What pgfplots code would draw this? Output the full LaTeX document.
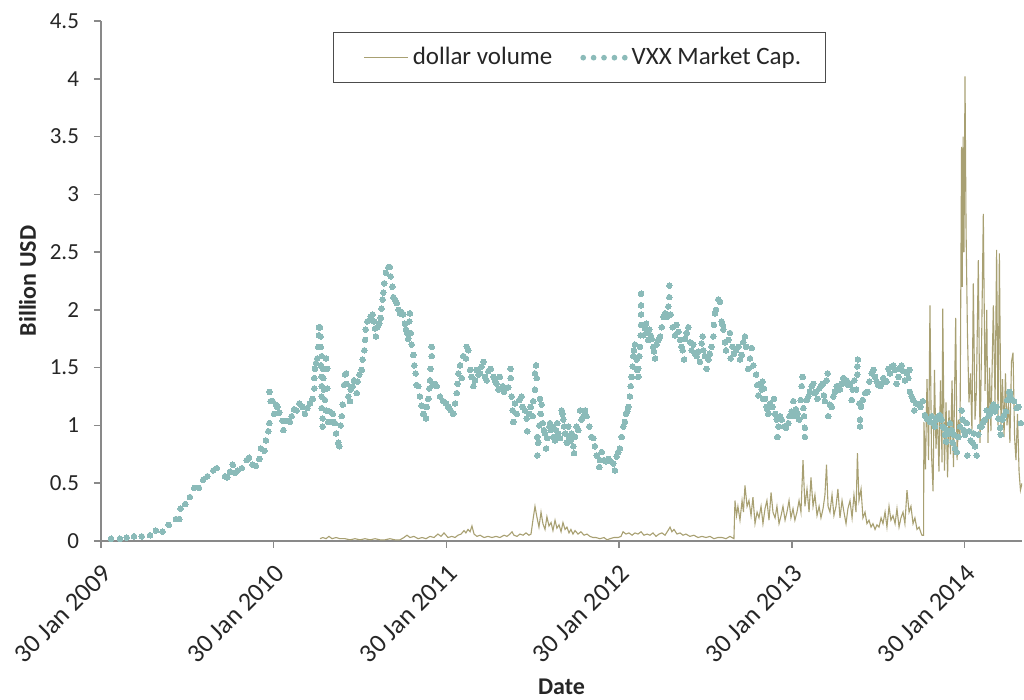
\documentclass[border=0pt]{standalone}
\usepackage{pgfplots}
\pgfplotsset{compat=1.18}
\usepackage{pgfplotstable}
\usepackage{fontspec}
\setmainfont{Carlito}
\definecolor{capcol}{RGB}{139,187,185}
\definecolor{volcol}{RGB}{168,160,114}
\definecolor{axcol}{RGB}{137,137,137}
\definecolor{txtcol}{RGB}{38,38,38}

% VXX market cap (years since 30 Jan 2009, billion USD)
\pgfplotstableread{
t y
0.058 0.02
0.110 0.02
0.149 0.03
0.191 0.04
0.236 0.04
0.284 0.05
0.318 0.09
0.357 0.08
0.392 0.14
0.434 0.19
0.453 0.19
0.461 0.28
0.488 0.32
0.515 0.38
0.540 0.46
0.567 0.46
0.592 0.53
0.616 0.56
0.650 0.61
0.670 0.63
0.718 0.56
0.731 0.55
0.747 0.60
0.763 0.66
0.776 0.59
0.792 0.61
0.816 0.63
0.844 0.70
0.857 0.72
0.878 0.66
0.897 0.65
0.917 0.71
0.926 0.80
0.946 0.78
0.955 0.87
0.969 0.95
0.975 1.02
0.975 1.29
0.983 1.21
0.994 1.21
1.002 1.10
1.013 1.18
1.021 1.16
1.032 1.11
1.052 1.04
1.056 0.96
1.075 1.04
1.094 1.03
1.104 1.08
1.118 1.14
1.133 1.13
1.148 1.19
1.168 1.16
1.181 1.10
1.195 1.15
1.210 1.19
1.226 1.23
1.235 1.32
1.235 1.41
1.239 1.49
1.245 1.54
1.252 1.58
1.258 1.68
1.262 1.78
1.262 1.85
1.268 1.85
1.272 1.77
1.272 1.68
1.278 1.60
1.274 1.52
1.284 1.49
1.278 1.42
1.287 1.41
1.278 1.34
1.291 1.31
1.278 1.25
1.297 1.22
1.278 1.15
1.303 1.13
1.284 1.06
1.284 0.99
1.303 1.58
1.310 1.49
1.310 1.32
1.316 1.03
1.326 1.12
1.342 1.10
1.345 1.03
1.355 1.02
1.361 0.93
1.374 0.85
1.380 0.82
1.388 1.00
1.394 1.08
1.400 1.18
1.407 1.35
1.413 1.44
1.419 1.45
1.423 1.36
1.432 1.25
1.442 1.21
1.446 1.31
1.457 1.34
1.465 1.39
1.481 1.28
1.486 1.38
1.496 1.44
1.510 1.48
1.515 1.57
1.525 1.65
1.529 1.74
1.533 1.83
1.542 1.90
1.554 1.91
1.562 1.94
1.573 1.96
1.581 1.90
1.587 1.84
1.592 1.77
1.600 1.85
1.611 1.88
1.620 1.93
1.625 2.01
1.631 2.09
1.635 2.15
1.640 2.23
1.650 2.32
1.664 2.37
1.673 2.37
1.677 2.29
1.687 2.20
1.693 2.11
1.702 2.09
1.712 2.06
1.724 2.00
1.731 1.97
1.741 1.98
1.750 1.96
1.760 1.88
1.766 1.83
1.774 1.80
1.779 1.75
1.785 1.90
1.789 1.97
1.793 1.80
1.799 1.70
1.808 1.61
1.814 1.52
1.822 1.45
1.828 1.35
1.837 1.34
1.847 1.25
1.857 1.17
1.866 1.10
1.882 1.06
1.886 1.16
1.895 1.23
1.901 1.32
1.905 1.39
1.909 1.49
1.915 1.60
1.915 1.68
1.924 1.35
1.934 1.36
1.944 1.34
1.963 1.25
1.982 1.21
1.998 1.19
2.011 1.16
2.025 1.13
2.040 1.10
2.050 1.19
2.060 1.28
2.065 1.36
2.069 1.45
2.079 1.52
2.089 1.41
2.098 1.60
2.113 1.58
2.118 1.68
2.127 1.65
2.137 1.48
2.146 1.42
2.156 1.34
2.166 1.39
2.175 1.48
2.185 1.44
2.195 1.45
2.204 1.51
2.214 1.55
2.224 1.42
2.233 1.39
2.243 1.47
2.257 1.49
2.272 1.42
2.281 1.39
2.291 1.36
2.301 1.31
2.310 1.42
2.326 1.34
2.334 1.29
2.345 1.32
2.358 1.33
2.372 1.49
2.372 1.41
2.378 1.25
2.384 1.13
2.387 1.03
2.397 1.19
2.407 1.10
2.422 1.22
2.436 1.25
2.442 1.16
2.455 1.13
2.465 1.06
2.468 0.95
2.480 1.10
2.488 1.16
2.500 1.08
2.503 1.21
2.513 1.31
2.513 1.45
2.519 1.52
2.523 1.41
2.526 0.90
2.526 0.74
2.532 0.85
2.538 1.00
2.542 1.23
2.546 1.10
2.552 1.18
2.558 1.02
2.565 0.96
2.571 0.93
2.577 0.80
2.584 0.89
2.596 0.99
2.600 1.02
2.604 0.96
2.616 0.99
2.619 0.90
2.629 0.87
2.635 0.96
2.642 1.02
2.648 0.93
2.658 0.89
2.668 1.13
2.673 1.10
2.677 1.05
2.681 0.99
2.687 0.93
2.697 0.85
2.706 0.99
2.712 0.90
2.720 0.87
2.726 0.93
2.735 0.82
2.739 0.76
2.745 0.90
2.754 0.99
2.764 0.96
2.774 1.13
2.783 1.05
2.793 1.08
2.803 1.13
2.812 1.08
2.827 0.99
2.841 0.90
2.851 0.89
2.860 0.82
2.870 0.74
2.885 0.64
2.889 0.70
2.899 0.77
2.913 0.70
2.924 0.69
2.937 0.71
2.951 0.69
2.966 0.67
2.976 0.61
2.986 0.73
2.995 0.77
3.005 0.80
3.015 0.90
3.024 0.99
3.034 1.03
3.040 1.10
3.047 1.12
3.053 1.16
3.063 1.25
3.067 1.34
3.073 1.42
3.079 1.51
3.082 1.60
3.086 1.65
3.092 1.70
3.102 1.57
3.105 1.48
3.111 1.42
3.111 1.49
3.117 1.60
3.121 1.68
3.125 1.78
3.127 1.87
3.127 1.96
3.127 2.04
3.127 2.14
3.133 1.87
3.140 1.78
3.150 1.84
3.156 1.88
3.160 1.80
3.169 1.74
3.175 1.83
3.183 1.78
3.189 1.75
3.198 1.68
3.202 1.64
3.208 1.58
3.218 1.70
3.227 1.74
3.237 1.77
3.247 1.85
3.256 1.94
3.266 1.97
3.276 1.94
3.285 2.03
3.291 2.11
3.291 2.21
3.299 1.96
3.310 1.85
3.324 1.78
3.333 1.87
3.343 1.81
3.353 1.74
3.362 1.68
3.368 1.65
3.376 1.57
3.382 1.75
3.391 1.80
3.401 1.85
3.411 1.72
3.420 1.65
3.430 1.70
3.440 1.62
3.449 1.60
3.459 1.64
3.468 1.55
3.478 1.71
3.484 1.77
3.488 1.65
3.497 1.60
3.507 1.49
3.517 1.57
3.526 1.62
3.536 1.68
3.545 1.77
3.549 1.87
3.555 1.97
3.561 2.00
3.574 2.09
3.584 2.07
3.594 1.90
3.600 1.87
3.603 1.83
3.613 1.72
3.619 1.65
3.632 1.74
3.642 1.80
3.646 1.58
3.658 1.68
3.665 1.62
3.677 1.65
3.690 1.68
3.700 1.57
3.710 1.61
3.719 1.72
3.729 1.77
3.735 1.68
3.748 1.49
3.758 1.58
3.768 1.67
3.777 1.52
3.793 1.44
3.800 1.35
3.806 1.26
3.816 1.36
3.826 1.31
3.831 1.38
3.835 1.23
3.839 1.32
3.845 1.23
3.855 1.16
3.858 1.14
3.864 1.10
3.874 1.19
3.889 1.16
3.897 1.23
3.903 1.10
3.913 1.05
3.916 0.90
3.922 0.99
3.932 1.08
3.942 1.05
3.955 0.99
3.966 0.98
3.980 1.02
3.986 1.08
3.999 1.12
4.009 1.21
4.013 1.08
4.024 1.14
4.032 1.10
4.043 1.05
4.052 1.22
4.057 1.34
4.063 1.42
4.067 1.15
4.071 1.08
4.076 0.98
4.076 0.90
4.086 1.22
4.096 1.25
4.105 1.29
4.115 1.34
4.124 1.36
4.129 1.28
4.140 1.29
4.148 1.23
4.159 1.32
4.167 1.34
4.179 1.36
4.186 1.26
4.192 1.21
4.202 1.39
4.208 1.45
4.211 1.08
4.221 1.18
4.231 1.16
4.240 1.25
4.250 1.29
4.260 1.34
4.269 1.31
4.279 1.31
4.289 1.36
4.298 1.41
4.308 1.39
4.318 1.39
4.327 1.35
4.337 1.36
4.347 1.22
4.353 1.31
4.362 1.39
4.372 1.31
4.379 1.44
4.379 1.51
4.383 1.57
4.391 1.19
4.395 1.05
4.395 0.99
4.401 1.16
4.411 1.22
4.424 1.28
4.437 1.29
4.449 1.38
4.463 1.45
4.472 1.48
4.482 1.42
4.492 1.38
4.501 1.35
4.511 1.34
4.520 1.36
4.530 1.41
4.540 1.39
4.549 1.38
4.559 1.49
4.569 1.45
4.578 1.51
4.588 1.52
4.598 1.48
4.607 1.36
4.617 1.42
4.626 1.49
4.636 1.52
4.646 1.47
4.655 1.39
4.665 1.45
4.675 1.41
4.680 1.48
4.684 1.29
4.694 1.25
4.704 1.22
4.709 1.13
4.719 1.19
4.732 1.18
4.746 1.16
4.758 1.21
4.771 1.09
4.781 1.06
4.790 1.05
4.800 1.03
4.810 1.08
4.819 1.02
4.829 0.99
4.839 1.05
4.848 1.08
4.858 1.09
4.868 1.05
4.874 0.99
4.881 0.98
4.887 0.92
4.893 0.86
4.897 0.96
4.906 0.93
4.916 1.02
4.926 0.96
4.932 0.85
4.939 0.92
4.945 0.80
4.955 0.77
4.964 0.90
4.974 0.99
4.984 1.13
4.990 1.05
4.997 0.96
5.003 0.92
5.013 1.02
5.016 0.74
5.028 0.95
5.036 0.87
5.047 0.85
5.055 0.93
5.061 0.82
5.071 0.74
5.080 0.92
5.090 0.99
5.100 0.99
5.109 1.03
5.119 1.05
5.128 1.13
5.138 1.08
5.148 1.10
5.157 1.15
5.167 1.18
5.177 1.12
5.186 1.16
5.196 1.06
5.206 0.98
5.210 0.92
5.221 1.05
5.229 1.09
5.240 1.12
5.248 1.22
5.259 1.29
5.264 1.26
5.279 1.22
5.287 1.21
5.302 1.15
5.312 1.16
5.326 1.02
}\capdata

% dollar volume (years since 30 Jan 2009, billion USD)
\pgfplotstableread{
t y
1.268 0.02
1.285 0.03
1.303 0.02
1.320 0.04
1.338 0.02
1.361 0.03
1.384 0.02
1.413 0.02
1.442 0.01
1.471 0.02
1.500 0.01
1.529 0.02
1.558 0.01
1.587 0.02
1.616 0.01
1.644 0.01
1.673 0.02
1.702 0.01
1.731 0.01
1.754 0.03
1.772 0.05
1.789 0.03
1.812 0.04
1.836 0.02
1.859 0.03
1.882 0.02
1.905 0.04
1.928 0.03
1.951 0.06
1.969 0.04
1.986 0.07
1.998 0.05
2.009 0.03
2.032 0.04
2.050 0.03
2.067 0.05
2.085 0.06
2.102 0.09
2.113 0.07
2.125 0.10
2.137 0.08
2.148 0.13
2.160 0.06
2.177 0.04
2.195 0.05
2.218 0.03
2.241 0.04
2.264 0.03
2.287 0.04
2.310 0.03
2.334 0.05
2.351 0.04
2.368 0.06
2.380 0.08
2.391 0.05
2.409 0.04
2.426 0.06
2.444 0.05
2.461 0.07
2.478 0.05
2.490 0.06
2.501 0.18
2.513 0.30
2.525 0.20
2.536 0.12
2.548 0.25
2.559 0.15
2.571 0.10
2.582 0.21
2.594 0.13
2.606 0.16
2.617 0.09
2.629 0.18
2.640 0.11
2.652 0.14
2.664 0.08
2.675 0.16
2.687 0.10
2.698 0.12
2.710 0.07
2.721 0.10
2.733 0.06
2.745 0.09
2.762 0.06
2.779 0.08
2.797 0.05
2.814 0.06
2.831 0.04
2.849 0.03
2.866 0.03
2.889 0.02
2.913 0.03
2.930 0.01
2.947 0.02
2.970 0.03
2.994 0.03
3.011 0.04
3.023 0.08
3.040 0.06
3.057 0.07
3.075 0.05
3.092 0.07
3.109 0.06
3.127 0.08
3.144 0.05
3.162 0.06
3.179 0.05
3.196 0.07
3.214 0.04
3.231 0.06
3.248 0.07
3.266 0.05
3.283 0.09
3.295 0.12
3.306 0.08
3.318 0.10
3.335 0.06
3.353 0.07
3.370 0.05
3.387 0.06
3.410 0.04
3.433 0.05
3.457 0.03
3.480 0.04
3.503 0.03
3.526 0.04
3.549 0.02
3.572 0.03
3.596 0.03
3.619 0.02
3.642 0.04
3.665 0.02
3.671 0.35
3.680 0.22
3.688 0.30
3.700 0.18
3.712 0.35
3.720 0.25
3.729 0.48
3.741 0.30
3.752 0.35
3.764 0.22
3.775 0.38
3.787 0.15
3.799 0.25
3.810 0.20
3.822 0.30
3.833 0.15
3.845 0.28
3.856 0.35
3.868 0.18
3.880 0.42
3.891 0.25
3.903 0.20
3.914 0.30
3.926 0.15
3.938 0.22
3.949 0.30
3.961 0.18
3.972 0.25
3.984 0.35
3.995 0.20
4.007 0.28
4.018 0.18
4.030 0.25
4.042 0.35
4.053 0.25
4.065 0.70
4.076 0.30
4.088 0.45
4.100 0.25
4.111 0.55
4.123 0.30
4.134 0.40
4.146 0.22
4.158 0.30
4.169 0.20
4.181 0.28
4.192 0.40
4.201 0.66
4.210 0.30
4.221 0.25
4.233 0.40
4.244 0.22
4.256 0.30
4.267 0.45
4.279 0.20
4.291 0.35
4.302 0.25
4.314 0.15
4.325 0.28
4.337 0.35
4.349 0.20
4.360 0.40
4.372 0.25
4.380 0.76
4.389 0.35
4.401 0.45
4.412 0.20
4.424 0.25
4.435 0.15
4.447 0.18
4.459 0.12
4.470 0.15
4.482 0.10
4.493 0.14
4.505 0.12
4.517 0.20
4.528 0.15
4.540 0.25
4.551 0.12
4.563 0.30
4.574 0.18
4.586 0.22
4.598 0.15
4.609 0.28
4.621 0.12
4.632 0.20
4.644 0.25
4.655 0.15
4.667 0.44
4.679 0.25
4.690 0.30
4.702 0.15
4.713 0.20
4.725 0.10
4.737 0.12
4.748 0.07
4.754 0.05
4.763 0.05
4.765 1.03
4.774 0.62
4.783 1.40
4.792 0.70
4.800 2.04
4.809 0.75
4.818 0.43
4.826 1.48
4.835 0.80
4.844 1.10
4.852 0.60
4.861 1.39
4.870 0.68
4.874 2.01
4.884 0.61
4.893 1.20
4.902 0.55
4.910 1.13
4.919 0.75
4.928 1.39
4.936 0.64
4.949 1.93
4.957 0.70
4.965 1.05
4.974 0.90
4.983 3.41
4.987 2.20
4.992 3.50
4.997 2.50
5.003 4.02
5.009 2.70
5.017 1.80
5.026 1.20
5.035 1.45
5.043 0.95
5.051 2.23
5.061 1.05
5.069 1.30
5.080 2.43
5.090 0.85
5.098 1.60
5.109 2.83
5.119 1.30
5.129 2.00
5.136 0.85
5.145 1.50
5.153 0.95
5.167 2.04
5.177 1.20
5.186 2.52
5.194 1.00
5.202 2.49
5.211 1.00
5.220 1.40
5.229 0.90
5.237 1.45
5.246 1.00
5.255 1.20
5.263 0.85
5.272 1.55
5.281 1.63
5.290 0.90
5.298 0.70
5.307 1.10
5.316 0.60
5.324 0.44
5.333 0.50
}\voldata

\begin{document}
\begin{tikzpicture}
\useasboundingbox (-50.5pt,-79.5pt) rectangle (461.5pt,270.5pt);
\begin{axis}[
  scale only axis,
  width=460.5pt, height=260pt,
  xmin=0, xmax=5.333,
  ymin=0, ymax=4.5,
  axis lines*=left,
  axis line style={axcol, line width=0.8pt},
  every tick/.style={axcol, line width=0.8pt},
  tick align=outside,
  major tick length=3.5pt,
  xtick={0,1,2,3,4,5},
  xticklabels={30 Jan 2009,30 Jan 2010,30 Jan 2011,30 Jan 2012,30 Jan 2013,30 Jan 2014},
  ytick={0,0.5,1,1.5,2,2.5,3,3.5,4,4.5},
  /pgf/number format/assume math mode=true,
  yticklabel style={/pgf/number format/fixed, font=\fontsize{11.5}{13}\selectfont, text=txtcol, xshift=-4pt},
  xticklabel style={yshift=-2.8pt, rotate=45, anchor=north east, font=\fontsize{13}{15}\selectfont, text=txtcol},
  xlabel={\textbf{Date}},
  ylabel={\textbf{Billion USD}},
  xlabel style={yshift=1pt},
  label style={font=\fontsize{12}{14}\selectfont, text=txtcol},
  clip=true,
  legend columns=2,
  legend style={at={(0.2519,0.979)}, anchor=north west, draw=black!70, line width=0.6pt,
    font=\fontsize{12.5}{14}\selectfont, text=txtcol, inner xsep=10pt, inner ysep=5.5pt,
    /tikz/every even column/.append style={column sep=12pt}},
  legend cell align=left,
]
\addplot[volcol, line width=0.55pt,
  legend image code/.code={\path (-5pt,0pt); \draw[volcol, line width=0.6pt] (0pt,0pt) -- (22pt,0pt);}]
  table[x=t, y=y] {\voldata};
\addlegendentry{dollar volume}
\addplot[capcol, only marks, mark=*, mark size=1.4pt, mark options={draw=capcol, fill=capcol, line width=0pt},
  legend image code/.code={\foreach \k in {0,...,4}{\fill[capcol] (\k*5.2pt+1.3pt,0pt) circle (1.1pt);}}]
  table[x=t, y=y] {\capdata};
\addlegendentry{VXX Market Cap.}
\end{axis}
\end{tikzpicture}
\end{document}
